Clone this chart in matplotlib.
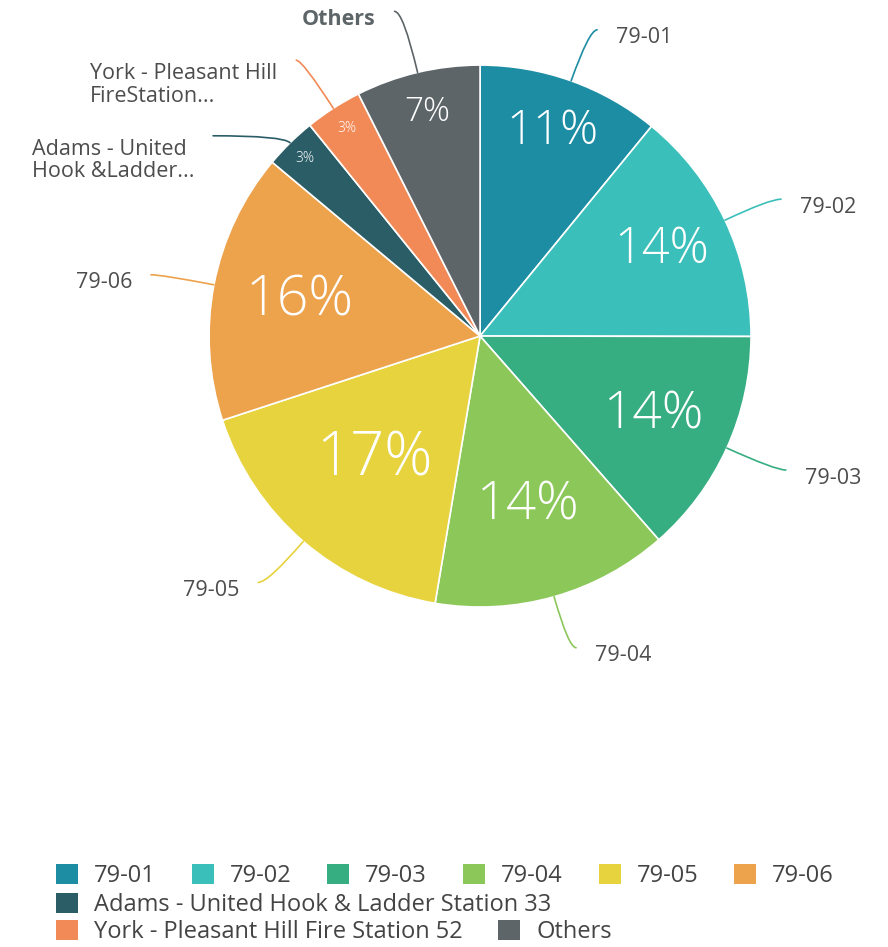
import matplotlib.pyplot as plt
from matplotlib.patches import Patch
import numpy as np

plt.rcParams['font.family'] = ['Open Sans', 'DejaVu Sans']

# dane (udzial w %)
stations = ['79-01', '79-02', '79-03', '79-04', '79-05', '79-06',
            'Adams - United Hook & Ladder Station 33',
            'York - Pleasant Hill Fire Station 52', 'Others']
short_labels = ['79-01', '79-02', '79-03', '79-04', '79-05', '79-06',
                'Adams - United\nHook &Ladder...',
                'York - Pleasant Hill\nFireStation...', 'Others']
shares = [10.9, 14.1, 13.5, 14.1, 17.3, 16.1, 3.1, 3.4, 7.4]
colors = ['#1d8da3', '#3bbfba', '#37ad82', '#8cc75a', '#e7d33e',
          '#eda24c', '#2b5d66', '#f28a57', '#5d6568']

# uklad etykiet
pct_radius = [0.80, 0.74, 0.70, 0.65, 0.60, 0.68, 0.92, 0.91, 0.85]
pct_size = [34, 35, 37, 38, 43, 40, 10, 10, 24]
# koniec linii od krawedzi kola, w pikselach (x, y w gore)
conn_px = [(26, 51), (56, 21), (59, -22), (22, -51), (-45, -41),
           (-63, 10), (-77, 7), (-37, 48), (-23, 61)]

fig = plt.figure(figsize=(8.88, 9.47), dpi=100)
ax = fig.add_axes([0.2354, 0.359, 0.6104, 0.5723])

wedges, texts, autotexts = ax.pie(
    shares, colors=colors, startangle=90, counterclock=False,
    autopct=lambda p: '%.0f%%' % p,
    wedgeprops=dict(edgecolor='white', linewidth=1.2))
ax.set_xlim(-1, 1)
ax.set_ylim(-1, 1)
ax.axis('off')

px2pt = 72 / fig.dpi
for i, w in enumerate(wedges):
    mid = np.deg2rad((w.theta1 + w.theta2) / 2)
    at = autotexts[i]
    at.set_position((pct_radius[i] * np.cos(mid), pct_radius[i] * np.sin(mid)))
    at.set_color('white')
    at.set_fontsize(pct_size[i])
    at.set_fontweight('light')
    at.set_ha('center')
    at.set_va('center')

    # linia laczaca
    p = (np.cos(mid), np.sin(mid))
    dx, dy = conn_px[i]
    ax.annotate('', xy=p, xycoords='data',
                xytext=(dx * px2pt, dy * px2pt), textcoords='offset points',
                arrowprops=dict(arrowstyle='-', color=colors[i], lw=1.2,
                                shrinkA=0, shrinkB=0,
                                connectionstyle='angle3,angleA=0,angleB=%.1f'
                                % np.rad2deg(mid)),
                annotation_clip=False)

    side = 1 if dx > 0 else -1
    two_lines = '\n' in short_labels[i]
    ty = dy + (-3 if two_lines else -8)
    bold = short_labels[i] == 'Others'
    ax.annotate(short_labels[i], xy=p, xycoords='data',
                xytext=((dx + side * 19) * px2pt, ty * px2pt),
                textcoords='offset points',
                ha='left' if side > 0 else 'right',
                va='top' if two_lines else 'center',
                multialignment='left',
                fontsize=15.5, color='#5d6568' if bold else '#4d4d4d',
                fontweight='bold' if bold else 'normal',
                linespacing=1.1, annotation_clip=False)

# legenda w trzech wierszach
rows = [list(range(0, 6)), [6], [7, 8]]
row_y = [1 - 876 / 947, 1 - 905 / 947, 1 - 932 / 947]
spacing = [1.52, 1.5, 1.5]
for r, idx in enumerate(rows):
    handles = [Patch(facecolor=colors[k], edgecolor='none') for k in idx]
    leg = fig.legend(handles, [stations[k] for k in idx], loc='center left',
                     bbox_to_anchor=(56 / 888, row_y[r]), ncol=len(idx),
                     frameon=False, fontsize=17, handlelength=0.93,
                     handleheight=0.93, handletextpad=0.68,
                     columnspacing=spacing[r], borderpad=0, borderaxespad=0)
    for t in leg.get_texts():
        t.set_color('#444444')

fig.savefig('out.png', dpi=100, facecolor='white')
